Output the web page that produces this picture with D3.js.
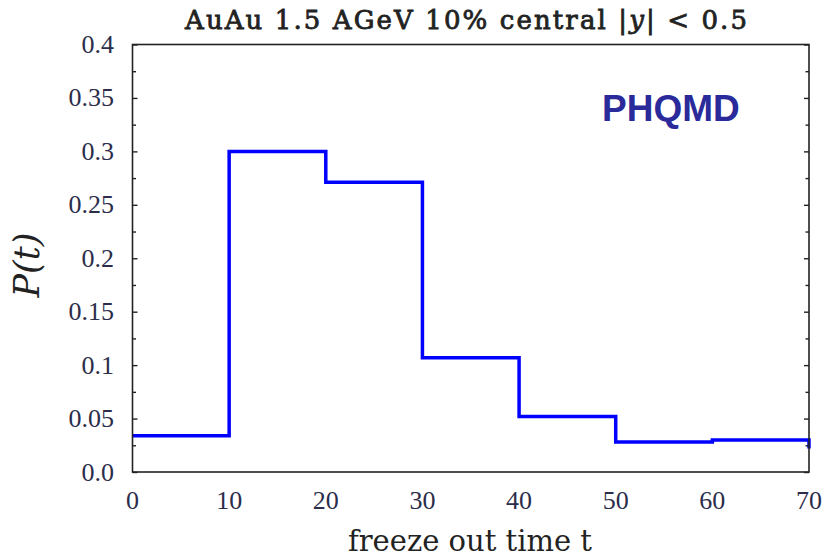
<!DOCTYPE html>
<html>
<head>
<meta charset="utf-8">
<script src="https://cdn.jsdelivr.net/npm/d3@7"></script>
<style>
  body { margin: 0; background: #fff; }
  svg text { font-family: "DejaVu Serif", "Liberation Serif", serif; }
  svg text.tick-label { font-family: "Liberation Serif", "DejaVu Serif", serif; }
</style>
</head>
<body>
<div id="chart"></div>
<script>
// bin edges (freeze out time t) and P(t) per bin
const binEdges = [0, 10, 20, 30, 40, 50, 60, 70];
const probValues = [0.034, 0.300, 0.271, 0.107, 0.052, 0.028, 0.030];
const lastDrop = 0.022;
const xTicks = [0, 10, 20, 30, 40, 50, 60, 70];
const yTicks = [0, 0.05, 0.1, 0.15, 0.2, 0.25, 0.3, 0.35, 0.4];
const yTickLabels = ["0.0", "0.05", "0.1", "0.15", "0.2", "0.25", "0.3", "0.35", "0.4"];
const yMinorTicks = [0.025, 0.075, 0.125, 0.175, 0.225, 0.275, 0.325, 0.375];

const width = 825, height = 558;
const margin = { left: 132.5, right: 16, top: 44.5, bottom: 86 };

const svg = d3.select("#chart").append("svg")
  .attr("width", width)
  .attr("height", height);

const x = d3.scaleLinear().domain([0, 70]).range([margin.left, width - margin.right]);
const y = d3.scaleLinear().domain([0, 0.4]).range([height - margin.bottom, margin.top]);

// step line
const pts = [];
probValues.forEach((v, i) => {
  pts.push([binEdges[i], v]);
  pts.push([binEdges[i + 1], v]);
});
pts.push([binEdges[binEdges.length - 1], lastDrop]);

svg.append("path")
  .datum(pts)
  .attr("fill", "none")
  .attr("stroke", "#0000ff")
  .attr("stroke-width", 3.5)
  .attr("stroke-linejoin", "miter")
  .attr("d", d3.line().x(d => x(d[0])).y(d => y(d[1])));

// frame
svg.append("rect")
  .attr("x", x(0))
  .attr("y", y(0.4))
  .attr("width", x(70) - x(0))
  .attr("height", y(0) - y(0.4))
  .attr("fill", "none")
  .attr("stroke", "#222")
  .attr("stroke-width", 1.6);

// y axes (left + right), ticks inward
const yLeft = svg.append("g").attr("transform", `translate(${x(0)},0)`);
yLeft.call(d3.axisRight(y).tickValues(yTicks).tickSize(5).tickFormat(""));
yLeft.append("g").call(d3.axisRight(y).tickValues(yMinorTicks).tickSize(3.5).tickFormat(""));
const yRight = svg.append("g").attr("transform", `translate(${x(70)},0)`);
yRight.call(d3.axisLeft(y).tickValues(yTicks).tickSize(5).tickFormat(""));
yRight.append("g").call(d3.axisLeft(y).tickValues(yMinorTicks).tickSize(3.5).tickFormat(""));
svg.selectAll(".domain").remove();
svg.selectAll(".tick line").attr("stroke", "#222").attr("stroke-width", 1.4);

// y tick labels
svg.selectAll(".ylabel")
  .data(yTicks)
  .enter().append("text")
  .attr("class", "ylabel tick-label")
  .attr("x", 114)
  .attr("y", d => y(d) + 8.5)
  .attr("text-anchor", "end")
  .attr("font-size", 26)
  .attr("fill", "#2b2d4a")
  .text((d, i) => yTickLabels[i]);

// x tick labels
svg.selectAll(".xlabel")
  .data(xTicks)
  .enter().append("text")
  .attr("class", "xlabel tick-label")
  .attr("x", d => x(d))
  .attr("y", 509)
  .attr("text-anchor", "middle")
  .attr("font-size", 26)
  .attr("fill", "#2b2d4a")
  .text(d => d);

// axis titles
svg.append("text")
  .attr("x", 470)
  .attr("y", 551)
  .attr("text-anchor", "middle")
  .attr("font-size", 29)
  .attr("fill", "#222")
  .text("freeze out time t");

svg.append("text")
  .attr("transform", "translate(39,265) rotate(-90)")
  .attr("text-anchor", "middle")
  .attr("font-size", 35)
  .attr("font-style", "italic")
  .attr("fill", "#222")
  .text("P(t)");

// title
const title = svg.append("text")
  .attr("x", 466)
  .attr("y", 29)
  .attr("text-anchor", "middle")
  .attr("font-size", 26)
  .attr("fill", "#222")
  .attr("stroke", "#222")
  .attr("stroke-width", 0.8)
  .attr("textLength", 562)
  .attr("lengthAdjust", "spacing");
title.append("tspan").text("AuAu 1.5 AGeV 10% central |");
title.append("tspan").attr("font-style", "italic").text("y");
title.append("tspan").text("| < 0.5");

// model label
svg.append("text")
  .attr("x", 602)
  .attr("y", 121)
  .style("font-family", "'Liberation Sans', Arial, sans-serif")
  .attr("font-weight", "bold")
  .attr("font-size", 37)
  .attr("fill", "#2a2a9a")
  .text("PHQMD");
</script>
</body>
</html>
